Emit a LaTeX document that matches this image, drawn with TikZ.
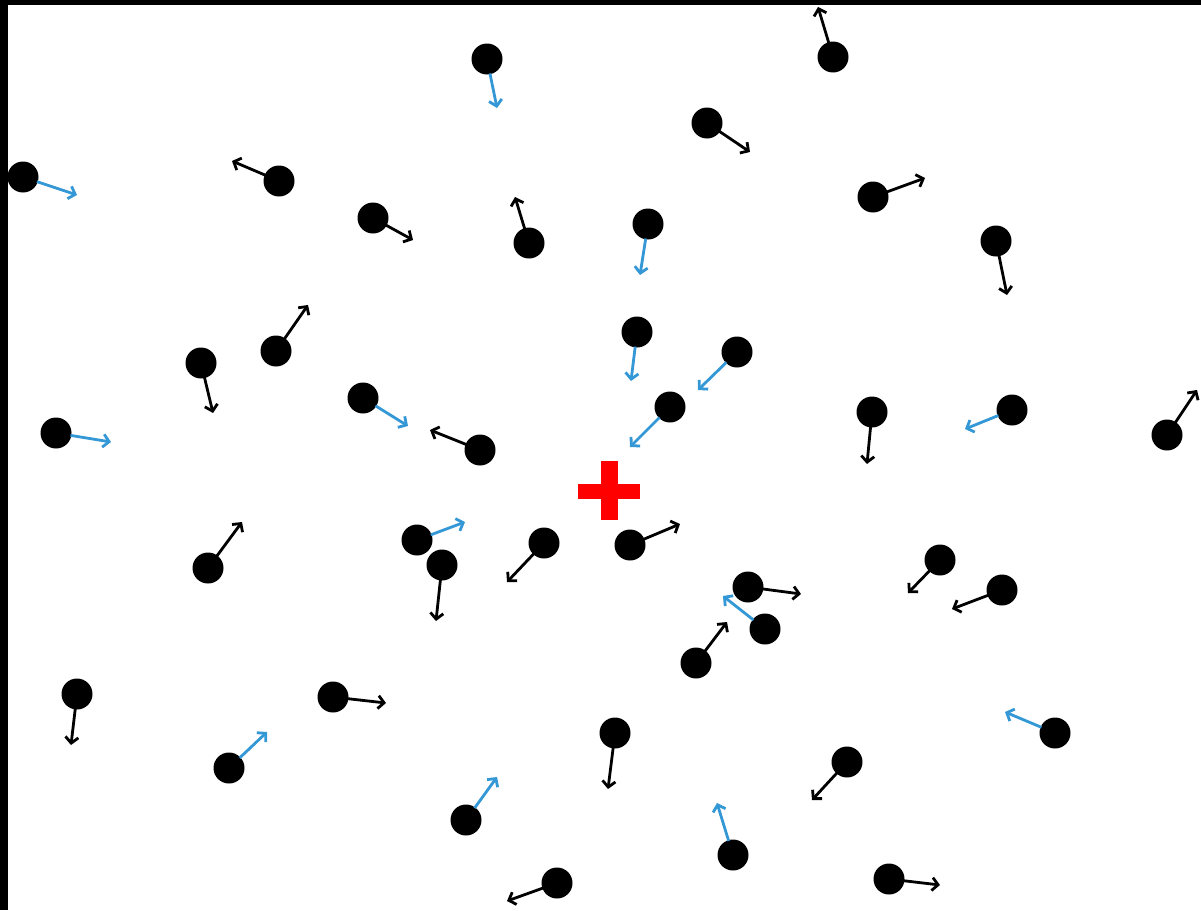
\documentclass[tikz,border=0pt]{standalone}
\usetikzlibrary{arrows.meta}
\definecolor{vblue}{RGB}{52,152,214}
\definecolor{crossred}{RGB}{255,0,0}
\tikzset{
  particle/.style={circle,fill=black,draw=none,inner sep=0pt,minimum size=31pt},
  vel/.style={line width=2.8pt,-{Straight Barb[length=6pt,width=13pt,line width=2.8pt]},shorten <=-1pt},
}
\begin{document}
\begin{tikzpicture}[x=1pt,y=-1pt]
\useasboundingbox (0,0) rectangle (1201,910);
\fill[white] (0,0) rectangle (1201,910);
\fill[black] (0,0) rectangle (1201,5);
\fill[black] (0,0) rectangle (8,910);
% center marker
\fill[crossred] (601,461) rectangle (618,520);
\fill[crossred] (578,484) rectangle (640,499);
\foreach \i/\x/\y/\tx/\ty/\c in {
 1/23/177/77/195/vblue,
 2/279/181/232/161/black,
 3/373/218/413/240/black,
 4/487/59/497/108/vblue,
 5/707/123/750/152/black,
 6/529/243/515/197/black,
 7/648/224/640/275/vblue,
 8/833/57/818/7/black,
 9/873/197/925/178/black,
 10/996/241/1007/295/black,
 11/201/363/213/413/black,
 12/276/351/308/305/black,
 13/56/433/111/442/vblue,
 14/363/398/408/426/vblue,
 15/208/568/242/522/black,
 16/637/332/631/381/vblue,
 17/737/352/698/390/vblue,
 18/670/407/630/447/vblue,
 19/480/450/430/430/black,
 20/417/540/465/522/vblue,
 21/442/565/436/621/black,
 22/544/543/507/582/black,
 23/630/545/680/524/black,
 24/748/587/801/594/black,
 25/765/629/723/596/vblue,
 26/696/663/727/622/black,
 27/872/412/867/464/black,
 28/1012/410/965/429/vblue,
 29/1167/435/1197/390/black,
 30/940/560/908/593/black,
 31/1002/590/952/609/black,
 32/77/694/71/745/black,
 33/333/697/386/703/black,
 34/229/768/267/732/vblue,
 35/615/733/608/789/black,
 36/466/820/497/777/vblue,
 37/733/855/717/803/vblue,
 38/557/883/507/901/black,
 39/847/762/812/800/black,
 40/1055/733/1005/712/vblue,
 41/889/879/940/885/black}{
  \node[particle] (d\i) at (\x,\y) {};
  \coordinate (t\i) at (\tx,\ty);
  \draw[vel,draw=\c] (d\i) -- (t\i);
}
\end{tikzpicture}
\end{document}
